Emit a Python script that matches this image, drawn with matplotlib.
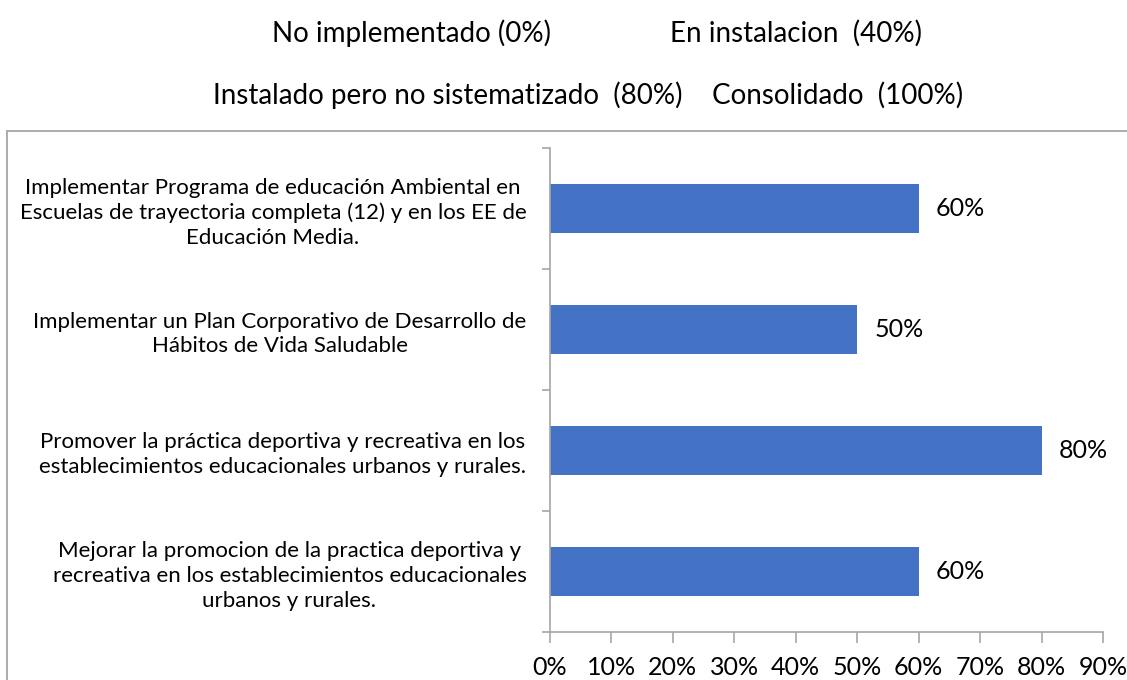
import matplotlib.pyplot as plt
from matplotlib.patches import Rectangle
from matplotlib.ticker import FixedLocator

plt.rcParams['font.family'] = ['Lato', 'DejaVu Sans']

# objectives (top to bottom) and their progress
objetivos = [
    "Implementar Programa de educación Ambiental en\nEscuelas de trayectoria completa (12) y en los EE de\nEducación Media.",
    "Implementar un Plan Corporativo de Desarrollo de\nHábitos de Vida Saludable",
    "Promover la práctica deportiva y recreativa en los\nestablecimientos educacionales urbanos y rurales.",
    "Mejorar la promocion de la practica deportiva y\nrecreativa en los establecimientos educacionales\nurbanos y rurales.",
]
avance = [60, 50, 80, 60]
ticks_x = [0, 10, 20, 30, 40, 50, 60, 70, 80, 90]

escala = [
    ("No implementado (0%)", 0.2413, 0.951),
    ("En instalacion  (40%)", 0.5945, 0.951),
    ("Instalado pero no sistematizado  (80%)", 0.189, 0.860),
    ("Consolidado  (100%)", 0.632, 0.860),
]

azul = '#4472C4'
gris = '#A6A6A6'

fig = plt.figure(figsize=(11.27, 6.8), dpi=100)
ax = fig.add_axes([550 / 1127, 48 / 680, 553 / 1127, 484 / 680])

# outer frame of the chart area
fig.patches.append(Rectangle((7 / 1127, -0.01), 1.02, (549 / 680) + 0.01,
                             transform=fig.transFigure, fill=False,
                             edgecolor=gris, linewidth=1.3))

pos = list(range(len(objetivos)))
ax.barh(pos, avance, height=0.4, color=azul, zorder=2)
for p, v in zip(pos, avance):
    ax.text(v + 2.8, p, f"{v}%", va='center', ha='left', fontsize=18)

ax.set_xlim(0, 90)
ax.set_ylim(len(objetivos) - 0.5, -0.5)
ax.set_xticks(ticks_x)
ax.set_xticklabels([f"{t}%" for t in ticks_x], fontsize=18)
ax.set_yticks(pos)
ax.set_yticklabels(objetivos, fontsize=16, multialignment='center',
                   linespacing=1.3)
ax.yaxis.set_minor_locator(FixedLocator([-0.5, 0.5, 1.5, 2.5, 3.5]))

ax.tick_params(axis='y', which='major', length=0, pad=17)
ax.tick_params(axis='y', which='minor', length=6, color=gris, width=1.2)
ax.tick_params(axis='x', length=8, color=gris, width=1.2, pad=9)

for s in ['top', 'right']:
    ax.spines[s].set_visible(False)
for s in ['left', 'bottom']:
    ax.spines[s].set_color(gris)
    ax.spines[s].set_linewidth(1.2)

for txt, x, y in escala:
    fig.text(x, y, txt, fontsize=20, va='center', ha='left')

fig.savefig('out.png', dpi=100)
